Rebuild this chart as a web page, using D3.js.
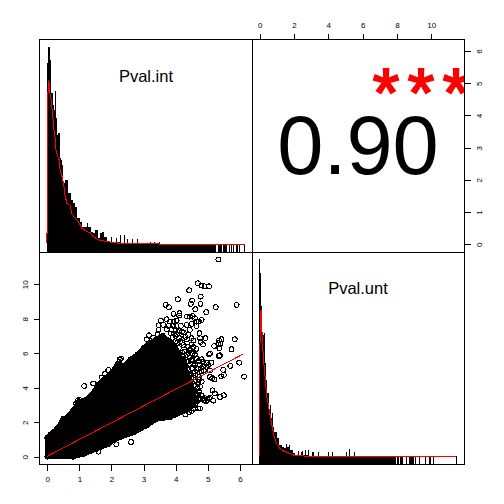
<!DOCTYPE html>
<html><head><meta charset="utf-8">
<script src="https://cdn.jsdelivr.net/npm/d3@7"></script>
<style>
html,body{margin:0;padding:0;background:#fff}
svg{display:block}
text{font-family:"Liberation Sans",Arial,sans-serif;fill:#000}
</style></head><body><svg id="c" width="504" height="504"></svg>
<script>
// ---------- data ----------
const xTicksInt = [0,1,2,3,4,5,6];
const yTicksUnt = [0,2,4,6,8,10];
const labelInt = "Pval.int";
const labelUnt = "Pval.unt";
const corrText = "0.90";
const starText = "***";

const histIntBinWidth = 0.03115;
const histInt = [543,592,592,553,454,454,418,403,460,379,328,334,334,259,253,238,184,184,193,193,193,154,154,154,133,133,124,124,112,112,79,79,79,67,67,52,52,52,52,52,64,52,52,52,37,37,34,34,43,43,43,19,19,34,34,37,37,22,22,22,7,7,7,7,22,7,7,7,7,19,7,7,7,28,5,5,5,28,4,4,16,4,4,4,4,16,4,4,4,4,16,3,3,3,3,3,3,3,3,3,3,3,3,6,3,3,3,6,3,3,3,3,6];
const densIntX = [-0.03,-0.03,0.00,0.00,0.02,0.05,0.08,0.12,0.15,0.18,0.21,0.24,0.27,0.33,0.37,0.40,0.46,0.52,0.55,0.61,0.71,0.76,0.83,0.97,1.08,1.23,1.33,1.43,1.60,1.85,2.26,3.04,6.16];
const densIntY = [3,33,33,343,453,493,453,433,403,373,343,323,283,263,253,223,203,173,148,123,118,93,83,68,48,38,35,23,13,8,3,1,0];
const rugIntSolid = [0,5.25];
const rugInt = [5.33,5.36,5.39,5.42,5.50,5.53,5.56,5.59,5.69,5.75,5.81,5.88,5.92,6.0,6.14];

const histUntBinWidth = 0.05828;
const histUnt = [593,550,451,373,364,370,280,229,190,190,139,154,115,130,88,73,73,73,55,55,34,34,34,28,28,25,25,37,28,28,34,19,19,19,10,10,1,1,1,16,4,4,13,16,4,4,19,4,4,19,1,1,1,13,13,1,1,1,1,13,1,1,1,1,1,1,1,1,1,13,1,1,1,13,1,1,1,1,1,1,1,1,1,1,1,1,1,13,1,1,22,1,1,1,1,13];
const densUntX = [-0.02,-0.02,0.02,0.08,0.13,0.19,0.25,0.33,0.41,0.52,0.64,0.76,0.87,0.99,1.18,1.38,1.67,1.96,2.15,2.93,11.47];
const densUntY = [0,19,357,439,379,319,274,229,179,149,114,79,54,39,24,16,11,4,2,0,0];
const rugUntSolid = [0,7.98];
const rugUnt = [8.05,8.08,8.20,8.24,8.27,8.35,8.53,8.56,8.74,8.80,8.86,8.92,8.99,9.11,9.30,9.65,9.88,9.91,9.94,10.12,11.46];

// dense cloud outline (int, unt)
const cloudX = [0,0,0.1,0.3,0.47,0.6,0.8,1.0,1.2,1.4,1.6,1.8,2.0,2.2,2.4,2.6,2.8,3.0,3.2,3.4,3.6,3.8,4.0,4.2,4.45,4.55,4.58,4.55,4.2,3.82,3.4,3.09,2.68,2.1,1.9,1.54,1.12,0.8,0];
const cloudY = [0,1.1,1.3,1.6,2.1,2.25,2.65,3.2,3.3,3.6,4.2,4.55,4.85,5.4,5.25,5.65,5.9,6.3,6.6,6.8,7.0,6.7,6.3,5.6,4.4,3.8,3.3,3.0,2.6,2.28,2.18,1.8,1.4,1.0,0.73,0.45,0.15,0,0];
// scattered points around the cloud (int, unt)
const ptsX = [5.33,4.69,4.8,4.9,5.04,4.42,4.78,4.07,4.51,4.47,4.77,5.9,3.69,3.79,5.25,4.61,4.95,3.93,4.12,4.11,4.35,4.44,4.53,4.6,4.81,4.65,4.72,3.54,3.72,3.82,3.93,4.03,3.47,3.61,3.77,3.93,4.03,4.16,4.34,4.5,4.65,3.46,3.72,3.87,4.0,4.2,4.44,4.74,3.17,3.43,4.39,4.49,4.76,4.93,5.43,5.84,5.35,5.33,5.4,4.78,4.55,4.85,5.2,4.24,4.39,5.36,5.74,4.65,4.43,4.4,5.07,5.04,5.38,5.35,4.22,4.53,4.65,4.81,4.44,4.34,4.96,5.12,5.02,4.86,4.76,5.98,5.7,5.48,5.07,4.5,4.65,4.18,4.29,4.55,4.74,5.5,5.42,6.13,5.07,5.14,5.21,4.81,4.73,4.76,4.72,5.15,5.22,5.5,5.38,5.07,5.04,5.17,4.89,4.76,4.65,4.76,4.7,4.42,4.81,1.15,1.43,2.26,1.9,2.1,2.61,2.15,1.59,
 4.05,4.1,4.15,4.05,4.2,4.1,4.28,4.2,4.12,4.35,4.25,4.4,4.45,4.3,4.55,4.4,4.25,4.6,4.45,4.62,4.7,4.8,4.88,4.95,4.72,4.62,4.55,4.7,4.62,4.68,4.6,4.7,4.62,4.72,4.66,4.6,4.55,4.5,4.3,4.35,4.85,4.95,5.0,4.9,4.0,3.9,4.0,3.85,3.95,4.1,4.25,4.3,4.35,4.5,4.45,4.55,4.6,4.5,4.72,4.85,4.6,0.5,2.3,2.25,1.8,1.7,3.1,3.3,0.9,1.0,0.95];
const ptsY = [11.43,10.06,9.92,9.88,9.88,9.65,9.28,9.13,9.05,8.86,8.86,8.8,8.8,8.67,8.67,8.55,8.38,8.28,8.32,8.18,8.12,8.12,8.16,8.03,7.93,7.83,7.83,7.89,7.97,7.83,7.83,7.89,7.62,7.64,7.58,7.58,7.58,7.58,7.64,7.7,7.58,7.35,7.39,7.39,7.35,7.25,7.35,7.16,7.04,7.1,7.06,6.87,6.87,6.87,6.81,6.81,6.73,6.58,6.54,6.65,6.73,6.5,6.42,6.48,6.38,6.29,6.23,6.25,6.13,6.03,5.98,5.94,5.88,5.84,5.84,6.0,5.7,5.65,5.76,5.51,5.45,5.45,5.32,5.26,5.32,5.45,5.26,5.03,5.0,5.13,5.13,5.22,4.93,4.84,4.9,4.74,4.66,4.64,4.62,4.55,4.47,4.35,4.62,4.06,3.77,3.85,3.67,3.56,3.46,3.42,3.37,3.25,3.25,3.35,3.3,2.8,2.8,2.57,3.55,4.1,4.25,5.65,5.03,4.93,0.85,0.72,0.29,
 7.1,6.9,6.7,6.6,6.6,6.3,6.1,6.05,5.95,5.9,5.65,5.55,5.35,5.25,5.4,5.05,5.05,4.95,4.75,4.7,5.1,4.95,5.0,5.2,4.45,4.45,4.6,4.25,4.1,3.95,3.8,3.6,3.55,3.4,3.2,3.05,2.8,2.65,2.45,2.75,3.35,3.2,3.3,3.4,7.0,6.9,6.7,7.15,7.15,7.3,7.2,6.95,6.8,6.5,6.2,6.35,5.9,5.6,5.55,5.5,5.3,2.2,5.7,5.5,4.8,4.6,6.8,6.9,3.1,3.3,3.25];
const fitX = [0,6.1];
const fitY = [0.03,5.95];

// ---------- panels and scales ----------
const L=39.5, M=252.5, R=464.5;
const svg = d3.select("#c");
const defs = svg.append("defs");
defs.append("clipPath").attr("id","tr").append("rect").attr("x",M).attr("y",L).attr("width",R-M).attr("height",M-L);

const xInt = d3.scaleLinear().domain([-0.243,6.393]).range([L,M]);        // Pval.int across the left column
const yInt = d3.scaleLinear().domain([-0.255,6.36]).range([M,L]);         // Pval.int up the top row (axis only)
const xUnt = d3.scaleLinear().domain([-0.42,11.94]).range([M,R]);         // Pval.unt across the right column
const yUnt = d3.scaleLinear().domain([-0.452,11.84]).range([R,M]);        // Pval.unt up the bottom row
const hInt = d3.scaleLinear().domain([0,600]).range([244.3,44.3]);
const hUnt = d3.scaleLinear().domain([0,600]).range([456.3,256.3]);

const crisp = g => g.attr("shape-rendering","crispEdges");

function diag(xs, hs, hist, bw, solid, rug, dx, dy, panelBottom, name, labelX, labelY){
  const g = svg.append("g").call(crisp);
  g.selectAll(".b").data(hist).join("rect")
    .attr("x",(d,i)=>Math.floor(xs(i*bw))).attr("width",1)
    .attr("y",d=>hs(d)).attr("height",d=>hs(0)-hs(d)).attr("fill","#000");
  g.append("rect").attr("x",Math.floor(xs(solid[0]))).attr("width",xs(solid[1])-xs(solid[0]))
    .attr("y",hs(0)).attr("height",panelBottom-hs(0)).attr("fill","#000");
  g.selectAll(".r").data(rug).join("rect")
    .attr("x",d=>Math.floor(xs(d))).attr("width",1)
    .attr("y",hs(0)).attr("height",panelBottom-hs(0)).attr("fill","#000");
  const line = d3.line().x(i=>xs(dx[i])).y(i=>hs(dy[i]));
  g.append("path").attr("d",line(d3.range(dx.length))).attr("fill","none").attr("stroke","#f00").attr("stroke-width",1);
  svg.append("text").attr("x",labelX).attr("y",labelY).attr("text-anchor","middle").attr("font-size",16.5).text(name);
}
diag(xInt,hInt,histInt,histIntBinWidth,rugIntSolid,rugInt,densIntX,densIntY,M,labelInt,146,81.5);
diag(xUnt,hUnt,histUnt,histUntBinWidth,rugUntSolid,rugUnt,densUntX,densUntY,R,labelUnt,358,293.5);

// scatter
const sc = svg.append("g").attr("shape-rendering","crispEdges");
const cloud = d3.line().x(i=>xInt(cloudX[i])).y(i=>yUnt(cloudY[i]));
sc.append("path").attr("d",cloud(d3.range(cloudX.length))+"Z").attr("fill","#000").attr("stroke","#000").attr("stroke-width",5).attr("stroke-linejoin","round");
const circ = (sel,xa,ya)=>sel.selectAll(null).data(d3.range(xa.length)).join("circle")
  .attr("cx",i=>xInt(xa[i])).attr("cy",i=>yUnt(ya[i])).attr("r",2.4)
  .attr("fill","none").attr("stroke","#000").attr("stroke-width",1);
circ(sc,cloudX,cloudY);
circ(sc,ptsX,ptsY);
sc.append("path").attr("d",d3.line().x(i=>xInt(fitX[i])).y(i=>yUnt(fitY[i]))(d3.range(fitX.length)))
  .attr("fill","none").attr("stroke","#f00").attr("stroke-width",1);

// correlation panel
const tr = svg.append("g").attr("clip-path","url(#tr)");
tr.append("text").attr("x",358).attr("y",174).attr("text-anchor","middle").attr("font-size",83).text(corrText);
tr.append("text").attr("x",372.8).attr("y",115.6).attr("text-anchor","start").attr("font-size",68).attr("letter-spacing",8.5).style("fill","#f00").attr("stroke","#f00").attr("stroke-width",2).text(starText);

// boxes
[[L,L],[M,L],[L,M],[M,M]].forEach(([x,y])=>{
  svg.append("rect").attr("x",x).attr("y",y).attr("width",(x===L?M-L:R-M)).attr("height",(y===L?M-L:R-M))
    .attr("fill","none").attr("stroke","#000").attr("stroke-width",1).attr("shape-rendering","crispEdges");
});

// axes
function axis(gen,x,y,vals,rot,off){
  const g = svg.append("g").attr("transform",`translate(${x},${y})`)
    .call(gen.tickValues(vals).tickFormat(d3.format("d")).tickSize(6).tickSizeOuter(0));
  g.select(".domain").remove();
  g.selectAll("line").attr("stroke","#000").attr("shape-rendering","crispEdges");
  g.selectAll("text").attr("font-size",8).attr("dy",0).attr("text-anchor","middle");
  if(rot) g.selectAll("text").attr("x",0).attr("y",off).attr("transform","rotate(-90)");
  else g.selectAll("text").attr("y",off);
  g.attr("font-family",null).attr("font-size",null);
}
axis(d3.axisBottom(xInt),0,R,xTicksInt,false,17.5);
axis(d3.axisLeft(yUnt),L,0,yTicksUnt,true,-11.5);
axis(d3.axisTop(xUnt),0,L,yTicksUnt,false,-11.5);
axis(d3.axisRight(yInt),R,0,xTicksInt,true,17.5);
</script></body></html>
